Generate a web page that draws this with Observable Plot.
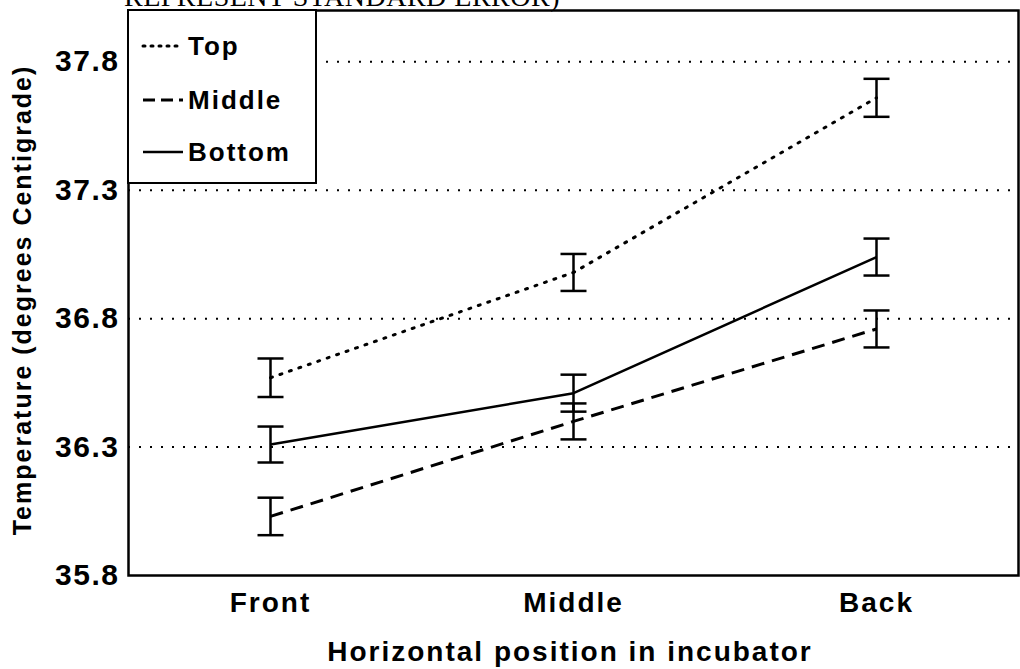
<!DOCTYPE html>
<html>
<head>
<meta charset="utf-8">
<script src="https://cdn.jsdelivr.net/npm/d3@7"></script>
<script src="https://cdn.jsdelivr.net/npm/@observablehq/plot@0.6"></script>
<style>
  html, body { margin: 0; padding: 0; background: #fff; }
  #wrap { position: relative; width: 1020px; height: 669px; overflow: hidden; font-family: "Liberation Sans", Arial, sans-serif; }
  #toptitle { position: absolute; left: 124px; top: -17px; font-family: "Liberation Serif", "Times New Roman", serif; font-size: 28px; line-height: 28px; white-space: nowrap; letter-spacing: 0.5px; }
  #ytitle { position: absolute; left: 22px; top: 300px; transform: translate(-50%, -50%) rotate(-90deg); font-weight: bold; font-size: 25px; letter-spacing: 2px; white-space: nowrap; }
  #xtitle { position: absolute; left: 570px; top: 652px; transform: translate(-50%, -50%); font-weight: bold; font-size: 28px; letter-spacing: 2px; white-space: nowrap; }
  #legend { position: absolute; left: 127px; top: 9px; width: 186px; height: 171px; border: 2px solid #000; background: #fff; }
  .li { position: absolute; left: 12px; height: 30px; display: flex; align-items: center; font-weight: bold; font-size: 26px; letter-spacing: 2px; }
  .li svg { margin-right: 3px; }
  #chart svg [aria-label="y-axis"] text,
  #chart svg [aria-label="y-axis tick label"] text { font-size: 30px; letter-spacing: 1.5px; }
  #chart svg [aria-label="x-axis"] text,
  #chart svg [aria-label="x-axis tick label"] text { font-size: 28px; letter-spacing: 2px; }
</style>
</head>
<body>
<div id="wrap">
  <div id="chart"></div>
  <div id="toptitle">REPRESENT STANDARD ERROR)</div>
  <div id="ytitle">Temperature (degrees Centigrade)</div>
  <div id="xtitle">Horizontal position in incubator</div>
  <div id="legend"></div>
</div>
<script>
// ---- data ----
const positions = ["Front", "Middle", "Back"];
const seriesNames = ["Top", "Middle", "Bottom"];
const topMeans    = [36.57, 36.98, 37.66];
const middleMeans = [36.03, 36.40, 36.76];
const bottomMeans = [36.31, 36.51, 37.04];
const topSE    = [0.075, 0.072, 0.074];
const middleSE = [0.073, 0.070, 0.072];
const bottomSE = [0.070, 0.072, 0.072];
const yTicks = [35.8, 36.3, 36.8, 37.3, 37.8];
const gridValues = [36.3, 36.8, 37.3, 37.8];

const styles = {
  Top:    {strokeWidth: 3,   strokeDasharray: "2,8", strokeLinecap: "round"},
  Middle: {strokeWidth: 3,   strokeDasharray: "13,8", strokeLinecap: "butt"},
  Bottom: {strokeWidth: 2.5, strokeDasharray: null, strokeLinecap: "butt"}
};

const meansBySeries = {Top: topMeans, Middle: middleMeans, Bottom: bottomMeans};
const seBySeries = {Top: topSE, Middle: middleSE, Bottom: bottomSE};
const rows = seriesNames.flatMap(s => positions.map((p, i) => ({
  series: s, pos: p, mean: meansBySeries[s][i], se: seBySeries[s][i]
})));

const font = "'Liberation Sans', Arial, sans-serif";

// horizontal cap symbol for error bars (half-width = r)
const capSymbol = {
  draw(context, size) {
    const h = Math.sqrt(size / Math.PI);
    context.moveTo(-h, 0);
    context.lineTo(h, 0);
  }
};

const lineMarks = seriesNames.map(s => Plot.line(rows.filter(r => r.series === s), {
  x: "pos", y: "mean", stroke: "#000", ...styles[s]
}));

const chart = Plot.plot({
  width: 1020,
  height: 669,
  marginLeft: 128,
  marginRight: 2,
  marginTop: 10,
  marginBottom: 94,
  style: {fontFamily: font, fontSize: "27px", fontWeight: "bold", color: "#000", background: "#fff"},
  x: {type: "point", domain: positions, padding: 0.464, label: null, tickSize: 0, tickPadding: 17},
  y: {domain: [35.8, 38.0], ticks: yTicks, tickFormat: d3.format(".1f"), label: null, tickSize: 0, tickPadding: 9},
  marks: [
    Plot.ruleY(gridValues, {stroke: "#000", strokeWidth: 2, strokeDasharray: "2,9"}),
    ...lineMarks,
    Plot.ruleX(rows, {x: "pos", y1: d => d.mean - d.se, y2: d => d.mean + d.se, stroke: "#000", strokeWidth: 2.5}),
    Plot.dot(rows, {x: "pos", y: d => d.mean + d.se, symbol: capSymbol, r: 13, fill: "none", stroke: "#000", strokeWidth: 2.5}),
    Plot.dot(rows, {x: "pos", y: d => d.mean - d.se, symbol: capSymbol, r: 13, fill: "none", stroke: "#000", strokeWidth: 2.5}),
    Plot.frame({stroke: "#000", strokeWidth: 2.5})
  ]
});
document.getElementById("chart").appendChild(chart);

// ---- legend (HTML overlay inside the frame) ----
const legend = document.getElementById("legend");
const legendTops = [20, 74, 126];
seriesNames.forEach((s, i) => {
  const item = document.createElement("div");
  item.className = "li";
  item.style.top = legendTops[i] + "px";
  const st = styles[s];
  item.innerHTML = `<svg width="44" height="10"><line x1="2" y1="5" x2="42" y2="5" stroke="#000" stroke-width="${st.strokeWidth}" ${st.strokeDasharray ? `stroke-dasharray="${s === "Top" ? "2,6" : "12,6"}"` : ""} stroke-linecap="${st.strokeLinecap}"/></svg><span>${s}</span>`;
  legend.appendChild(item);
});
</script>
</body>
</html>
